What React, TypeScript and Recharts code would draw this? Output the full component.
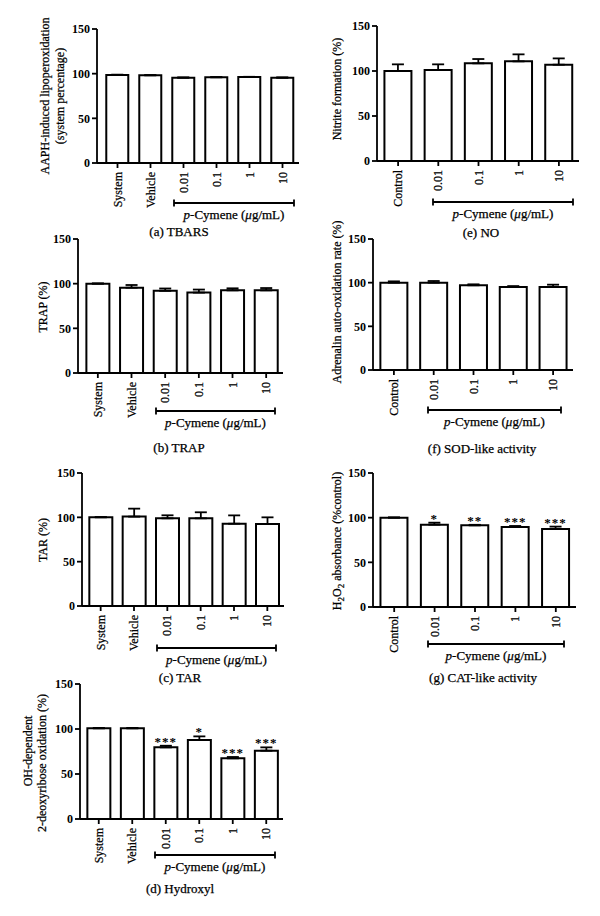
import React from "react";
import { BarChart, Bar, XAxis, YAxis, ErrorBar, LabelList } from "recharts";

const FONT = "'Liberation Serif', 'Times New Roman', serif";

// categories
const systemCats = ["System", "Vehicle", "0.01", "0.1", "1", "10"];
const controlCats = ["Control", "0.01", "0.1", "1", "10"];
const yTicks = [0, 50, 100, 150];

// (a) TBARS
const tbarsMean = [98.5, 98.1, 95.5, 95.9, 96.2, 95.5];
const tbarsSem = [0.4, 0.3, 0.3, 0.3, 0.3, 0.3];
// (b) TRAP
const trapMean = [100, 95.5, 92, 90, 92.5, 92.5];
const trapSem = [0.3, 3, 2.6, 3.4, 2.3, 2.6];
// (c) TAR
const tarMean = [100, 100.8, 98.9, 98.9, 92.8, 92.5];
const tarSem = [0.3, 9, 3.4, 6.8, 9.4, 7.5];
// (d) Hydroxyl
const ohMean = [100.7, 100.7, 79.6, 87.8, 67.4, 75.9];
const ohSem = [0.5, 0.5, 1.8, 4, 1.5, 3.7];
const ohSig = ["", "", "***", "*", "***", "***"];
// (e) NO
const noMean = [100, 101.1, 108.5, 110.7, 107];
const noSem = [7.4, 6.3, 4.8, 7.8, 7];
// (f) SOD-like
const sodMean = [100, 100, 97, 95, 95];
const sodSem = [1.5, 1.9, 1.1, 1.1, 2.7];
// (g) CAT-like
const catMean = [100, 92.2, 91.4, 89.6, 87.4];
const catSem = [0.3, 2.2, 0.6, 1.1, 2.6];
const catSig = ["", "*", "**", "***", "***"];

type Box = { axisX: number; right: number; top: number; bottom: number; pad: number };

// text looks a touch heavier in the scan, a thin stroke helps
const INK = { fill: "#000", stroke: "#000", strokeWidth: 0.25 };

const RotTick = (props: any) => {
  const { x, y, payload } = props;
  return (
    <g transform={`translate(${x},${y})`}>
      <text x={-2} y={0} dy={4} transform="rotate(-90)" textAnchor="end"
        fontFamily={FONT} fontSize={12} {...INK}>
        {payload.value}
      </text>
    </g>
  );
};

function Panel({ cats, mean, sem, sig, box }: {
  cats: string[]; mean: number[]; sem: number[]; sig?: string[]; box: Box;
}) {
  const data = cats.map((c, i) => ({ cat: c, v: mean[i], e: [0, sem[i]], sig: sig ? sig[i] : "" }));
  const YW = 30, MT = 8, XH = 50, MR = 4;
  const left = box.axisX - YW;
  const width = box.right - left + MR;
  const height = MT + (box.bottom - box.top) + XH;

  const star = (p: any) => {
    const vb = p.viewBox || {};
    const x = p.x ?? vb.x, y = p.y ?? vb.y, w = p.width ?? vb.width, h = p.height ?? vb.height;
    const i = p.index;
    if (!p.value || i == null) return null;
    const pxPer = Math.abs(h) / mean[i];
    const errTop = y - sem[i] * pxPer;
    return (
      <text x={x + w / 2} y={errTop} textAnchor="middle" fontFamily={FONT}
        fontSize={13} fontWeight="bold" fill="#000" letterSpacing={1}>
        {p.value}
      </text>
    );
  };

  return (
    <div style={{ position: "absolute", left, top: box.top - MT, width, height }}>
      <BarChart width={width} height={height} data={data}
        margin={{ top: MT, right: MR, bottom: 0, left: 0 }} barCategoryGap="16%">
        <XAxis dataKey="cat" height={XH} interval={0} tick={<RotTick />} tickSize={5}
          tickLine={{ stroke: "#000", strokeWidth: 1.8 }}
          axisLine={{ stroke: "#000", strokeWidth: 1.8 }}
          padding={{ left: box.pad, right: 0 }} />
        <YAxis width={YW} domain={[0, 150]} ticks={yTicks} interval={0} tickSize={5}
          tick={{ fontFamily: FONT, fontSize: 12, fontWeight: "bold", fill: "#000" }}
          tickLine={{ stroke: "#000", strokeWidth: 1.8 }}
          axisLine={{ stroke: "#000", strokeWidth: 1.8 }} />
        <Bar dataKey="v" fill="#fff" stroke="#000" strokeWidth={2} isAnimationActive={false}>
          <ErrorBar dataKey="e" width={6} stroke="#000" strokeWidth={1.8} direction="y" />
          {sig ? <LabelList dataKey="sig" content={star} /> : null}
        </Bar>
      </BarChart>
    </div>
  );
}

const Bracket = ({ x1, x2, y }: { x1: number; x2: number; y: number }) => (
  <g>
    <g stroke="#000" strokeWidth={1.8}>
      <line x1={x1} x2={x2} y1={y} y2={y} />
      <line x1={x1} x2={x1} y1={y - 3.5} y2={y + 3.5} />
      <line x1={x2} x2={x2} y1={y - 3.5} y2={y + 3.5} />
    </g>
    <text x={(x1 + x2) / 2} y={y + 16} textAnchor="middle" fontFamily={FONT} fontSize={13} {...INK}>
      <tspan fontStyle="italic">p</tspan>-Cymene (<tspan fontStyle="italic">μ</tspan>g/mL)
    </text>
  </g>
);

const Title = ({ x, y, children }: { x: number; y: number; children: React.ReactNode }) => (
  <text x={x} y={y + 4.5} textAnchor="middle" fontFamily={FONT} fontSize={13} {...INK}>{children}</text>
);

const YLabel = ({ cx, cy, children }: { cx: number; cy: number; children: React.ReactNode }) => (
  <text transform={`translate(${cx + 4},${cy}) rotate(-90)`} textAnchor="middle"
    fontFamily={FONT} fontSize={12} {...INK}>{children}</text>
);

export default function App() {
  return (
    <div style={{ position: "absolute", left: 0, top: 0, width: 600, height: 916, background: "#fff" }}>
      <Panel cats={systemCats} mean={tbarsMean} sem={tbarsSem} box={{ axisX: 97, right: 299, top: 29, bottom: 163, pad: 4 }} />
      <Panel cats={systemCats} mean={trapMean} sem={trapSem} box={{ axisX: 78, right: 283, top: 239, bottom: 373, pad: 3 }} />
      <Panel cats={systemCats} mean={tarMean} sem={tarSem} box={{ axisX: 82, right: 284, top: 473, bottom: 606, pad: 2 }} />
      <Panel cats={systemCats} mean={ohMean} sem={ohSem} sig={ohSig} box={{ axisX: 80, right: 283, top: 684, bottom: 819, pad: 2 }} />
      <Panel cats={controlCats} mean={noMean} sem={noSem} box={{ axisX: 377, right: 579, top: 26, bottom: 161, pad: 1 }} />
      <Panel cats={controlCats} mean={sodMean} sem={sodSem} box={{ axisX: 373, right: 573, top: 239, bottom: 370, pad: 1 }} />
      <Panel cats={controlCats} mean={catMean} sem={catSem} sig={catSig} box={{ axisX: 373, right: 576, top: 473, bottom: 607, pad: 1 }} />

      <svg width={600} height={916} style={{ position: "absolute", left: 0, top: 0, pointerEvents: "none" }}>
        <Bracket x1={174} x2={294} y={203} />
        <Bracket x1={156} x2={275} y={411} />
        <Bracket x1={157} x2={276} y={648} />
        <Bracket x1={155} x2={275} y={855} />
        <Bracket x1={433} x2={573} y={202} />
        <Bracket x1={428} x2={561} y={410} />
        <Bracket x1={428} x2={564} y={644} />

        <Title x={179} y={231}>(a) TBARS</Title>
        <Title x={179} y={447}>(b) TRAP</Title>
        <Title x={180} y={677}>(c) TAR</Title>
        <Title x={180} y={888}>(d) Hydroxyl</Title>
        <Title x={481} y={232}>(e) NO</Title>
        <Title x={482} y={448}>(f) SOD-like activity</Title>
        <Title x={483} y={677}>(g) CAT-like activity</Title>

        <YLabel cx={45} cy={96}>AAPH-induced lipoperoxidation</YLabel>
        <YLabel cx={60} cy={96}>(system percentage)</YLabel>
        <YLabel cx={43} cy={307}>TRAP (%)</YLabel>
        <YLabel cx={43} cy={540}>TAR (%)</YLabel>
        <YLabel cx={28} cy={751}>OH-dependent</YLabel>
        <YLabel cx={42} cy={763}>2-deoxyribose oxidation (%)</YLabel>
        <YLabel cx={337} cy={89}>Nitrite formation (%)</YLabel>
        <YLabel cx={337} cy={302}>Adrenalin auto-oxidation rate (%)</YLabel>
        <YLabel cx={337} cy={541}>
          H<tspan fontSize={9} dy={3}>2</tspan><tspan dy={-3}>O</tspan><tspan fontSize={9} dy={3}>2</tspan><tspan dy={-3}> absorbance (%control)</tspan>
        </YLabel>
      </svg>
    </div>
  );
}
